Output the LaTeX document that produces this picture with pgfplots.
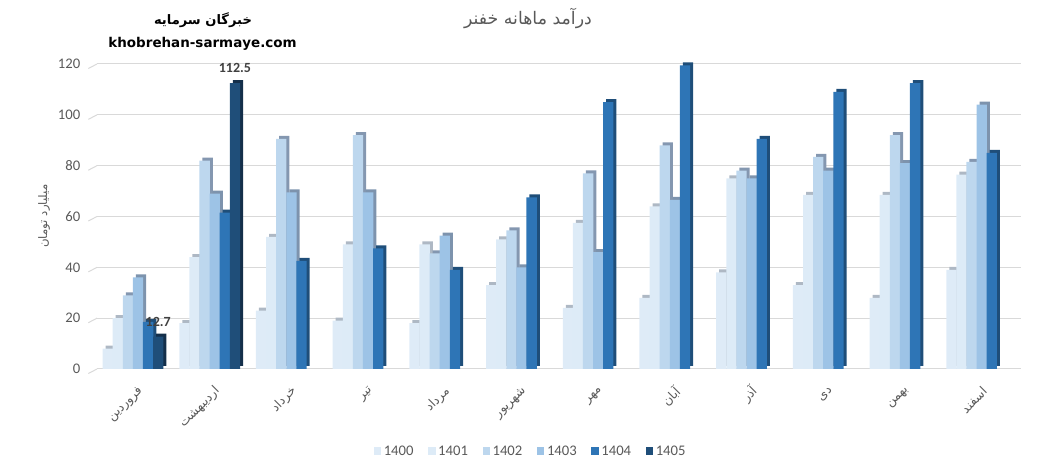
\documentclass[border=0pt]{standalone}
\usepackage{fontspec}
\usepackage{pgfplots}
\usepackage{pgfplotstable}
\pgfplotsset{compat=1.18}
\setmainfont{Carlito}
\newfontfamily\arabicfont[Script=Arabic]{DejaVu Sans}
\TeXXeTstate=1
\newcommand\fa[1]{{\arabicfont\beginR #1\endR}}
\definecolor{cA}{HTML}{DEEBF7}
\definecolor{cB}{HTML}{DDEBF7}
\definecolor{cC}{HTML}{BDD7EE}
\definecolor{cD}{HTML}{9DC3E6}
\definecolor{cE}{HTML}{2E75B6}
\definecolor{cF}{HTML}{1F4E79}
\definecolor{sA}{HTML}{AEB8C4}
\definecolor{sB}{HTML}{AEB8C4}
\definecolor{sC}{HTML}{8497B0}
\definecolor{sD}{HTML}{7D93AD}
\definecolor{sE}{HTML}{1F4E79}
\definecolor{sF}{HTML}{142F4A}
\definecolor{txt}{HTML}{595959}
\definecolor{lab}{HTML}{404040}
\definecolor{gridc}{HTML}{D9D9D9}

\pgfplotstableread{
x  a    b     c     d     e
0  8    20    29    36    18.5
1  18   44    82    69    61.5
2  23   52    90.5  69.5  42.5
3  19   49    92    69.5  47.5
4  18   49    45.5  52.5  39
5  33   51    54.5  40    67.5
6  24   57.5  77    46    105
7  28   64    88    66.5  119.5
8  38   75    78    75    90.5
9  33   68.5  83.5  78    109
10 28   68.5  92    81    112.5
11 39   76.5  81.5  104   85
}\data

\begin{document}
\begin{tikzpicture}
\useasboundingbox (0,0) rectangle (791.25pt,347.25pt);
\begin{axis}[
  at={(72.75pt,70.5pt)}, anchor=south west,
  scale only axis, width=693pt, height=228.75pt,
  xmin=-0.469, xmax=11.578, ymin=0, ymax=120,
  ybar, bar width=7.7pt,
  ytick={0,20,...,120},
  xtick={0,...,11},
  xticklabels={\fa{فروردین},\fa{اردیبهشت},\fa{خرداد},\fa{تیر},\fa{مرداد},\fa{شهریور},\fa{مهر},\fa{آبان},\fa{آذر},\fa{دی},\fa{بهمن},\fa{اسفند}},
  xticklabel style={rotate=45, anchor=east, font=\fontsize{9.3}{11}\selectfont, text=txt, xshift=-3pt, yshift=-15pt},
  yticklabel style={font=\fontsize{11}{13}\selectfont, text=txt, xshift=-9pt},
  /pgf/number format/assume math mode=true,
  ymajorgrids, grid style={gridc, line width=0.75pt},
  axis line style={draw=none},
  major tick length=0pt,
  legend columns=6,
  legend style={at={(0.4697,-0.272)}, anchor=center, draw=none, fill=none,
    font=\fontsize{11}{13}\selectfont, text=txt,
    /tikz/every even column/.append style={column sep=9pt}},
  legend image code/.code={\fill[#1] (0pt,-2.6pt) rectangle (5.5pt,3.4pt);},
  clip=false,
]
\pgfplotsinvokeforeach{0,20,...,120}{
  \draw[gridc, line width=0.75pt] (axis cs:-0.469,#1) -- ++(-6.5pt,-3.4pt);
}
% side/top faces
\addplot[fill=sA, draw=none, bar shift=-16.69pt, yshift=2.25pt, forget plot] table[x=x,y=a]{\data};
\addplot[fill=sB, draw=none, bar shift=-9.11pt, yshift=2.25pt, forget plot] table[x=x,y=b]{\data};
\addplot[fill=sC, draw=none, bar shift=-1.54pt, yshift=2.25pt, forget plot] table[x=x,y=c]{\data};
\addplot[fill=sD, draw=none, bar shift=6.04pt, yshift=2.25pt, forget plot] table[x=x,y=d]{\data};
\addplot[fill=sE, draw=none, bar shift=13.61pt, yshift=2.25pt, forget plot] table[x=x,y=e]{\data};
\addplot[fill=sF, draw=none, bar shift=21.19pt, yshift=2.25pt, forget plot] coordinates {(0,12.7) (1,112.5)};
% front faces
\addplot[fill=cA, draw=none, bar shift=-18.94pt] table[x=x,y=a]{\data};
\addplot[fill=cB, draw=none, bar shift=-11.36pt] table[x=x,y=b]{\data};
\addplot[fill=cC, draw=none, bar shift=-3.79pt] table[x=x,y=c]{\data};
\addplot[fill=cD, draw=none, bar shift=3.79pt] table[x=x,y=d]{\data};
\addplot[fill=cE, draw=none, bar shift=11.36pt] table[x=x,y=e]{\data};
\addplot[fill=cF, draw=none, bar shift=18.94pt,
  nodes near coords,
  nodes near coords style={font=\bfseries\fontsize{10.5}{12}\selectfont, text=lab, yshift=4pt}]
  coordinates {(0,12.7) (1,112.5)};
\legend{1400,1401,1402,1403,1404,1405}
\end{axis}
\node[text=txt, font=\fontsize{13}{15}\selectfont] at (396pt,333.75pt) {\fa{درآمد ماهانه خفنر}};
\node[font=\bfseries\fontsize{9.8}{12}\selectfont] at (152.25pt,332.25pt) {\fa{خبرگان سرمایه}};
\node[font=\bfseries\fontsize{10.1}{12}\selectfont] at (151.9pt,314.25pt) {\arabicfont khobrehan-sarmaye.com};
\node[text=txt, rotate=90, font=\fontsize{8.8}{10}\selectfont] at (33pt,185.25pt) {\fa{میلیارد تومان}};
\end{tikzpicture}
\end{document}
